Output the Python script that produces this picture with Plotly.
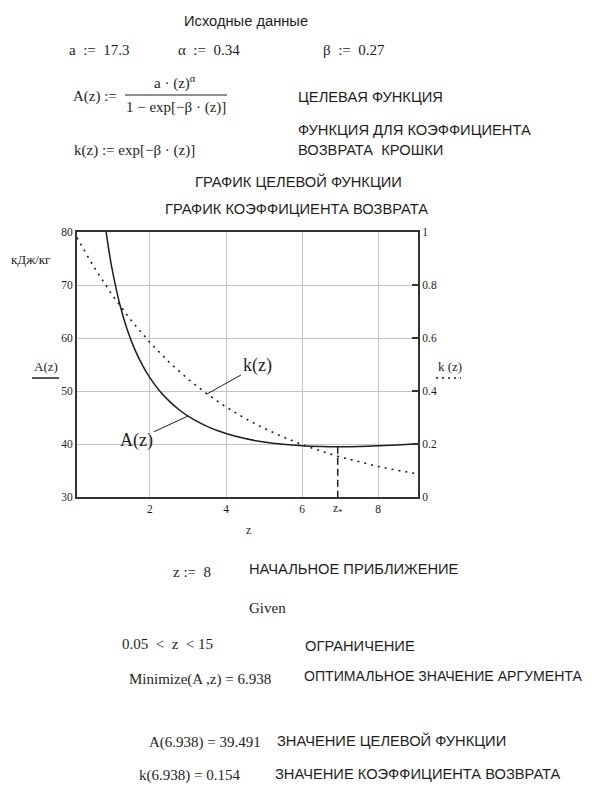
import plotly.graph_objects as go

# ---------------- data ----------------
a_param, alpha_param, beta_param = 17.3, 0.34, 0.27

z_A = [0.8, 0.9, 1.0, 1.2, 1.4, 1.6, 1.8, 2.0, 2.25, 2.5, 2.75, 3.0, 3.5, 4.0,
       4.5, 5.0, 5.5, 6.0, 6.5, 7.0, 7.5, 8.0, 8.5, 9.05]
A_vals = [82.53, 77.38, 73.12, 66.52, 61.62, 57.86, 54.89, 52.48, 50.06, 48.13,
          46.56, 45.28, 43.33, 41.97, 41.02, 40.36, 39.93, 39.66, 39.53, 39.49,
          39.54, 39.66, 39.83, 40.06]

z_k = [0.08, 0.5, 1.0, 1.5, 2.0, 2.5, 3.0, 3.5, 4.0, 4.5, 5.0, 5.5, 6.0, 6.5,
       7.0, 7.5, 8.0, 8.5, 9.05]
k_vals = [0.979, 0.8737, 0.7634, 0.6670, 0.5827, 0.5092, 0.4449, 0.3887, 0.3396,
          0.2967, 0.2592, 0.2265, 0.1979, 0.1729, 0.1511, 0.1320, 0.1153, 0.1008,
          0.0869]

z_opt, A_opt, k_opt = 6.938, 39.491, 0.154
z_start = 8

x_ticks = [2, 4, 6, 8]
yl_ticks = [30, 40, 50, 60, 70, 80]
yr_ticks = [0, 0.2, 0.4, 0.6, 0.8, 1]

# ---------------- layout helpers ----------------
OFF = 8                      # default page body margin
PAGE_W, PAGE_H = 596, 785
W, H = PAGE_W - OFF, PAGE_H - OFF
L, R, T, B = 77, 418, 232, 497   # plot frame in page pixels


def P(px, py):
    return (px - L) / (R - L), (B - py) / (B - T)


SANS = "Liberation Sans"
SERIF = "Liberation Serif"
INK = "#1e1e1e"
SS = 14.7   # sans comment size
MS = 15     # math (serif) size

fig = go.Figure()

fig.add_trace(go.Scatter(x=z_A, y=A_vals, mode="lines", line=dict(color=INK, width=1.5, shape="spline"),
                         yaxis="y", showlegend=False, hoverinfo="skip"))
fig.add_trace(go.Scatter(x=z_k, y=k_vals, mode="lines", line=dict(color=INK, width=1.6, dash="2px,5px"),
                         yaxis="y2", showlegend=False, hoverinfo="skip"))
fig.add_trace(go.Scatter(x=[z_opt, z_opt], y=[A_opt, yl_ticks[0]], mode="lines",
                         line=dict(color=INK, width=1.5, dash="7px,4px"),
                         yaxis="y", showlegend=False, hoverinfo="skip"))

ann = []


def text(px, py, s, size=SS, font=SANS, anchor="left", color=INK):
    x, y = P(px, py)
    ann.append(dict(x=x, y=y, xref="paper", yref="paper", text=s, showarrow=False,
                    xanchor=anchor, yanchor="middle", borderpad=0,
                    font=dict(family=font, size=size, color=color)))


SP = "&nbsp;"
# header block
text(183, 21, "Исходные данные")
text(68, 50, f"a{SP*2}:={SP*2}{a_param}", MS, SERIF)
text(177, 50, f"α{SP*2}:={SP*2}{alpha_param}", MS, SERIF)
text(322, 50, f"β{SP*2}:={SP*2}{beta_param}", MS, SERIF)
text(72, 97, f"A(z){SP}:=", MS, SERIF)
text(175, 83, "a · (z)<sup>α</sup>", MS, SERIF, anchor="center")
text(176, 107, "1 − exp[−β · (z)]", MS, SERIF, anchor="center")
text(297, 97, "ЦЕЛЕВАЯ ФУНКЦИЯ")
text(297, 130, "ФУНКЦИЯ ДЛЯ КОЭФФИЦИЕНТА")
text(297, 150, "ВОЗВРАТА  КРОШКИ")
text(73, 150, f"k(z){SP}:={SP}exp[−β · (z)]", MS, SERIF)

text(298, 181, "ГРАФИК ЦЕЛЕВОЙ ФУНКЦИИ", anchor="center")
text(296, 209, "ГРАФИК КОЭФФИЦИЕНТА ВОЗВРАТА", anchor="center")

# axis titles
text(30, 259, "кДж/кг", 13, SERIF, anchor="center")
text(46, 366, "A(z)", 13, SERIF, anchor="center")
text(450, 366, "k (z)", 13, SERIF, anchor="center")
text(248, 530, "z", 12, SERIF, anchor="center")
ann.append(dict(x=z_opt, y=P(0, 509)[1], xref="x", yref="paper", text="z<sub>*</sub>", showarrow=False,
                xanchor="center", yanchor="middle", font=dict(family=SERIF, size=12, color=INK)))

# bottom block
text(172, 572, f"z{SP}:={SP*2}{z_start}", MS, SERIF)
text(248, 569, "НАЧАЛЬНОЕ ПРИБЛИЖЕНИЕ")
text(248, 608, "Given", MS, SERIF)
text(121, 644, f"0.05{SP*2}&lt;{SP*2}z{SP*2}&lt;{SP}15", MS, SERIF)
text(304, 646, "ОГРАНИЧЕНИЕ")
text(128, 679, f"Minimize(A ,z){SP}={SP}{z_opt}", MS, SERIF)
text(303, 676, "ОПТИМАЛЬНОЕ ЗНАЧЕНИЕ АРГУМЕНТА", 14.1)
text(148, 742, f"A({z_opt}){SP}={SP}{A_opt}", MS, SERIF)
text(276, 740, "ЗНАЧЕНИЕ ЦЕЛЕВОЙ ФУНКЦИИ")
text(138, 775, f"k({z_opt}){SP}={SP}{k_opt}", MS, SERIF)
text(274, 774, "ЗНАЧЕНИЕ КОЭФФИЦИЕНТА ВОЗВРАТА")

# trace labels with leader lines
ik = z_k.index(3.5)
ann.append(dict(x=z_k[ik], y=k_vals[ik], xref="x", yref="y2", text="k(z)", showarrow=True,
                arrowhead=0, arrowwidth=1, arrowcolor=INK, ax=50, ay=-28,
                font=dict(family=SERIF, size=18, color=INK)))
iA = z_A.index(3.0)
ann.append(dict(x=z_A[iA], y=A_vals[iA], xref="x", yref="y", text="A(z)", showarrow=True,
                arrowhead=0, arrowwidth=1, arrowcolor=INK, ax=-52, ay=24,
                font=dict(family=SERIF, size=18, color=INK)))

shapes = []
# fraction bar
x0, y0 = P(125, 95)
x1, _ = P(227, 95)
shapes.append(dict(type="line", xref="paper", yref="paper", x0=x0, x1=x1, y0=y0, y1=y0,
                   line=dict(color=INK, width=1)))
# legend-style underlines for axis titles
x0, y0 = P(32, 378)
x1, _ = P(59, 378)
shapes.append(dict(type="line", xref="paper", yref="paper", x0=x0, x1=x1, y0=y0, y1=y0,
                   line=dict(color=INK, width=1.5)))
x0, y0 = P(436, 378)
x1, _ = P(461, 378)
shapes.append(dict(type="line", xref="paper", yref="paper", x0=x0, x1=x1, y0=y0, y1=y0,
                   line=dict(color=INK, width=1.5, dash="2px,4px")))
# white box behind the A(z) label (hides grid lines)
x0, y0 = P(107, 463)
x1, y1 = P(178, 429)
shapes.append(dict(type="rect", xref="paper", yref="paper", x0=x0, x1=x1, y0=y0, y1=y1,
                   fillcolor="white", line=dict(width=0), layer="between"))

tickfont = dict(family=SERIF, size=11.5, color=INK)
fig.update_layout(
    width=W, height=H, autosize=False,
    margin=dict(l=L - OFF, r=W - (R - OFF), t=T - OFF, b=H - (B - OFF), pad=0),
    paper_bgcolor="white", plot_bgcolor="white",
    showlegend=False,
    annotations=ann, shapes=shapes,
    xaxis=dict(range=[0.08, 9.05], tickvals=x_ticks, ticks="", showgrid=True,
               gridcolor="#c4c4c4", gridwidth=1, zeroline=False,
               showline=True, mirror=True, linecolor="#333", linewidth=2,
               tickfont=tickfont),
    yaxis=dict(range=[30, 80], tickvals=yl_ticks, ticks="", showgrid=True,
               gridcolor="#c4c4c4", gridwidth=1, zeroline=False,
               showline=True, mirror=True, linecolor="#333", linewidth=2,
               tickfont=tickfont),
    yaxis2=dict(range=[0, 1], tickvals=yr_ticks, overlaying="y", side="right",
                ticks="inside", ticklen=6, tickwidth=2, tickcolor="#333",
                showgrid=False, zeroline=False, showline=True, linecolor="#333", linewidth=2,
                tickfont=tickfont),
)

fig.write_html("out.html")
